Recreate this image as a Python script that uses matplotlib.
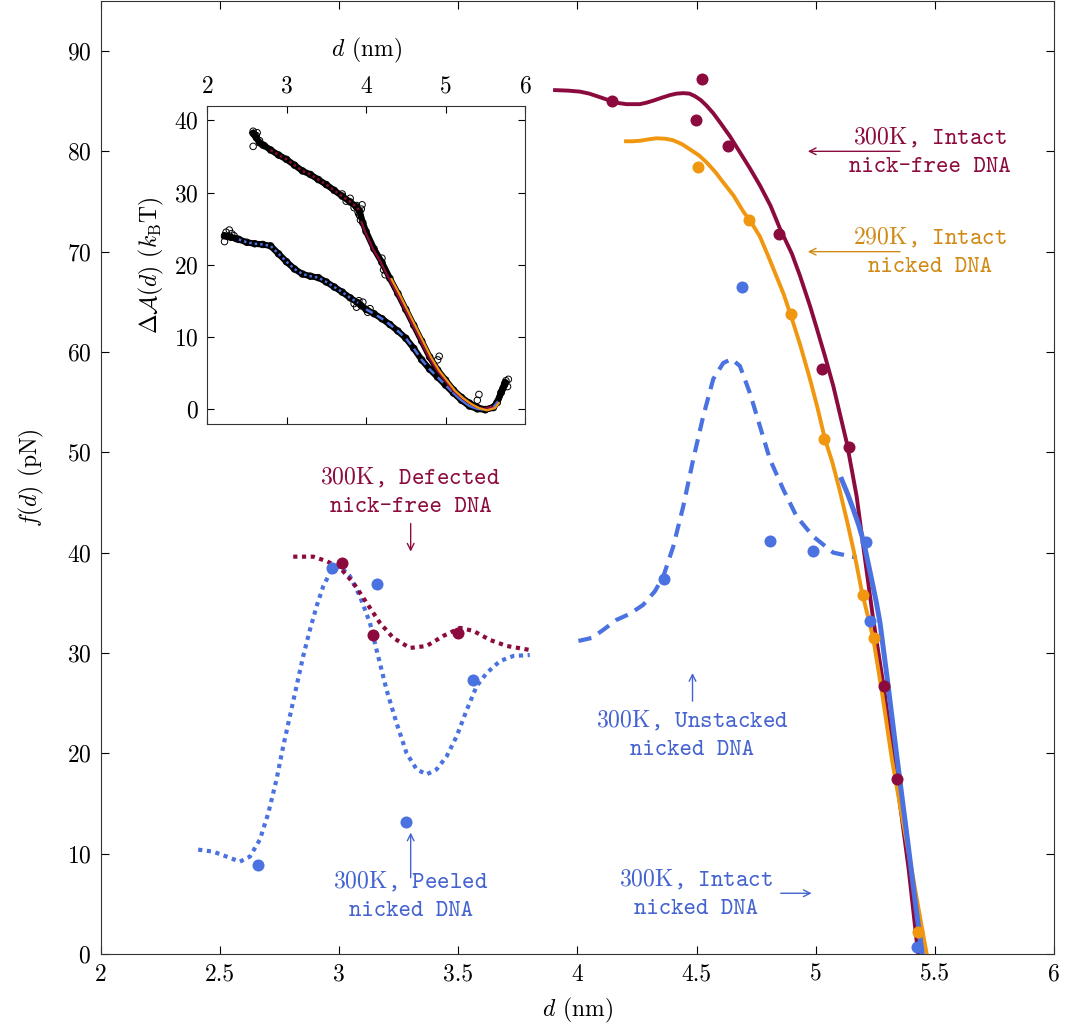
import numpy as np
import matplotlib.pyplot as plt
import matplotlib.transforms as mtransforms

# Colores
maroon = '#8C0B3E'
orange = '#F0960F'
blue = '#4A72E0'
orange_txt = '#D08A14'
blue_txt = '#4563D0'

# ---------------- Datos: panel principal ----------------
# 300K, intact nick-free (linea continua)
nf_x = [3.906, 3.96, 4.01, 4.05, 4.094, 4.143, 4.175, 4.206, 4.262, 4.29, 4.318, 4.355, 4.388,
        4.416, 4.444, 4.47, 4.493, 4.518, 4.542, 4.57, 4.598, 4.64, 4.682, 4.724, 4.766, 4.81,
        4.85, 4.90, 4.934, 4.976, 5.004, 5.04, 5.074, 5.10, 5.13, 5.152, 5.172, 5.20, 5.24,
        5.287, 5.34, 5.39, 5.43]
nf_y = [86.1, 86.05, 85.95, 85.75, 85.4, 85.0, 84.8, 84.7, 84.7, 84.85, 85.05, 85.35, 85.6,
        85.75, 85.8, 85.75, 85.5, 85.1, 84.55, 83.8, 82.9, 81.5, 79.9, 78.3, 76.6, 74.6,
        72.3, 69.8, 67.6, 64.6, 62.4, 59.5, 56.6, 54.0, 51.0, 48.2, 45.6, 40.6, 33.6,
        26.4, 17.4, 8.5, 0.0]
nf_dx = [4.145, 4.497, 4.524, 4.63, 4.845, 5.025, 5.138, 5.287, 5.342]
nf_dy = [85.0, 83.1, 87.2, 80.5, 71.8, 58.3, 50.5, 26.7, 17.4]

# 290K, intact nicked
ni_x = [4.204, 4.23, 4.262, 4.30, 4.332, 4.37, 4.402, 4.44, 4.472, 4.51, 4.542, 4.58, 4.612,
        4.655, 4.696, 4.73, 4.766, 4.80, 4.836, 4.865, 4.895, 4.935, 4.976, 5.008, 5.039,
        5.07, 5.101, 5.135, 5.165, 5.193, 5.242, 5.28, 5.32, 5.36, 5.40, 5.44, 5.466]
ni_y = [81.0, 81.0, 81.05, 81.2, 81.3, 81.25, 81.1, 80.7, 80.2, 79.6, 78.9, 77.9, 76.9,
        75.6, 74.0, 72.9, 71.5, 69.6, 67.5, 65.8, 63.7, 60.7, 57.3, 54.4, 51.3,
        49.0, 46.2, 42.8, 39.6, 36.2, 31.4, 25.8, 19.4, 14.0, 8.8, 3.4, 0.0]
ni_dx = [4.506, 4.72, 4.896, 5.034, 5.198, 5.244, 5.43]
ni_dy = [78.4, 73.2, 63.8, 51.3, 35.8, 31.5, 2.2]

# 300K, intact nicked
in_x = [5.109, 5.135, 5.158, 5.18, 5.20, 5.22, 5.235, 5.255, 5.27, 5.30, 5.34, 5.39, 5.42, 5.45]
in_y = [47.3, 45.8, 44.3, 42.8, 41.2, 39.0, 37.3, 35.0, 33.0, 27.5, 19.8, 10.5, 4.8, -0.5]
in_dx = [5.21, 5.228, 5.425]
in_dy = [41.1, 33.2, 0.7]

# 300K, unstacked nicked
un_x = [4.004, 4.06, 4.108, 4.164, 4.22, 4.276, 4.325, 4.36, 4.402, 4.444, 4.486, 4.528, 4.57,
        4.612, 4.647, 4.682, 4.724, 4.766, 4.808, 4.864, 4.92, 4.99, 5.074, 5.172]
un_y = [31.2, 31.5, 32.3, 33.3, 33.9, 34.8, 36.15, 37.6, 40.6, 44.6, 49.3, 53.6, 57.3,
        58.9, 59.3, 58.6, 55.9, 52.6, 49.3, 46.3, 43.6, 41.6, 40.0, 39.5]
un_dx = [4.363, 4.692, 4.807, 4.99]
un_dy = [37.4, 66.5, 41.2, 40.2]

# 300K, peeled nicked
pe_x = [2.408, 2.471, 2.528, 2.583, 2.625, 2.667, 2.702, 2.737, 2.765, 2.793, 2.821, 2.849,
        2.877, 2.905, 2.933, 2.968, 3.003, 3.045, 3.087, 3.129, 3.157, 3.199, 3.241, 3.283,
        3.325, 3.367, 3.409, 3.451, 3.493, 3.535, 3.577, 3.619, 3.675, 3.731, 3.80]
pe_y = [10.4, 10.2, 9.7, 9.2, 9.7, 11.4, 14.0, 17.4, 20.7, 23.7, 26.7, 29.7,
        32.3, 34.65, 36.65, 38.3, 38.65, 37.65, 35.65, 33.0, 30.3, 26.3, 23.0, 20.0,
        18.4, 17.9, 18.4, 19.7, 21.7, 24.3, 26.7, 28.0, 29.2, 29.7, 29.8]
pe_dx = [2.66, 2.97, 3.16, 3.28, 3.56]
pe_dy = [8.9, 38.5, 36.9, 13.2, 27.3]

# 300K, defected nick-free
de_x = [2.807, 2.891, 2.947, 3.003, 3.059, 3.115, 3.171, 3.227, 3.297, 3.367, 3.437, 3.507,
        3.563, 3.633, 3.703, 3.80]
de_y = [39.6, 39.6, 39.15, 38.5, 37.0, 35.0, 33.0, 31.5, 30.5, 30.7, 31.7, 32.5,
        32.2, 31.3, 30.7, 30.3]
de_dx = [3.01, 3.14, 3.50]
de_dy = [39.0, 31.8, 32.0]

# ---------------- Datos: inset (energia libre) ----------------
up_x = [2.58, 2.62, 2.66, 2.72, 2.80, 2.90, 3.00, 3.10, 3.20, 3.30, 3.40, 3.50, 3.60, 3.70,
        3.80, 3.88, 3.92, 3.96, 4.00, 4.10, 4.20, 4.30, 4.40, 4.50, 4.60, 4.70, 4.80, 4.90,
        5.00, 5.10, 5.20, 5.30, 5.40, 5.50, 5.60, 5.65, 5.70, 5.75]
up_y = [38.2, 37.6, 36.9, 36.5, 35.9, 35.2, 34.6, 33.8, 33.0, 32.5, 31.8, 31.1, 30.3, 29.5,
        28.7, 28.0, 27.4, 25.8, 24.6, 22.2, 20.3, 18.1, 16.0, 13.8, 11.6, 9.4, 7.2, 5.4,
        4.0, 2.6, 1.6, 0.8, 0.2, -0.1, 0.2, 0.9, 2.3, 3.6]
lo_x = [2.22, 2.30, 2.40, 2.50, 2.60, 2.70, 2.80, 2.90, 3.00, 3.10, 3.20, 3.30, 3.40, 3.50,
        3.60, 3.70, 3.80, 3.90, 4.00, 4.10, 4.20, 4.30, 4.40, 4.50, 4.60, 4.70, 4.80, 4.90,
        5.00, 5.10, 5.20, 5.30, 5.40, 5.50, 5.60, 5.65, 5.70, 5.75]
lo_y = [24.0, 23.8, 23.5, 23.1, 22.9, 22.8, 22.6, 21.5, 20.4, 19.4, 18.7, 18.4, 18.2, 17.6,
        16.9, 16.2, 15.4, 14.7, 13.8, 13.2, 12.5, 11.7, 10.8, 9.8, 8.4, 6.8, 5.5, 4.4,
        3.3, 2.2, 1.2, 0.4, 0.0, -0.1, 0.2, 0.9, 2.3, 3.6]
# puntos de muestreo (circulos abiertos) extra
smp_x = [2.58, 2.60, 2.62, 2.63, 2.58, 2.66, 2.70, 3.70, 3.75, 3.80, 3.85, 3.88, 3.90, 3.92,
         3.94, 3.95, 3.93, 3.91, 4.20, 4.22, 4.24, 4.90, 4.92, 5.40, 5.42, 5.72, 5.74, 5.76,
         5.78, 5.79, 2.22, 2.24, 2.26, 2.28, 2.31, 2.34, 2.37, 3.85, 3.88, 3.91, 3.94, 3.96,
         4.02, 4.05]
smp_y = [38.5, 38.0, 37.9, 38.3, 36.4, 37.2, 36.6, 29.8, 28.8, 29.2, 27.9, 28.2, 27.3, 26.8,
         27.7, 28.3, 26.2, 27.0, 20.9, 19.3, 18.6, 6.8, 7.3, 1.2, 2.0, 2.8, 3.3, 3.9, 3.1,
         4.1, 23.2, 24.5, 23.9, 24.8, 24.3, 24.0, 23.6, 14.6, 14.1, 15.0, 14.3, 14.8,
         13.4, 13.9]

# ---------------- Figura ----------------
plt.rcParams['font.family'] = ['cmr10', 'DejaVu Serif']
plt.rcParams['mathtext.fontset'] = 'cm'
plt.rcParams['axes.unicode_minus'] = False
plt.rcParams['axes.formatter.use_mathtext'] = True

fig = plt.figure(figsize=(10.65, 10.26), dpi=100)
ax = fig.add_axes([0.0948, 0.0702, 0.8948, 0.929])

lw = 3.0
ax.plot(pe_x, pe_y, color=blue, lw=lw, ls=(0, (1, 1.1)), zorder=2)
ax.plot(de_x, de_y, color=maroon, lw=lw, ls=(0, (1, 1.1)), zorder=2)
ax.plot(un_x, un_y, color=blue, lw=lw, ls=(0, (3.2, 2)), zorder=2)
ax.plot(nf_x, nf_y, color=maroon, lw=2.8, zorder=3)
ax.plot(ni_x, ni_y, color=orange, lw=2.8, zorder=3)
ax.plot(in_x, in_y, color=blue, lw=3.6, zorder=3)

ms = 75
ax.scatter(pe_dx, pe_dy, s=ms, color=blue, lw=0, zorder=4)
ax.scatter(de_dx, de_dy, s=ms, color=maroon, lw=0, zorder=4)
ax.scatter(un_dx, un_dy, s=ms, color=blue, lw=0, zorder=4)
ax.scatter(nf_dx, nf_dy, s=ms, color=maroon, lw=0, zorder=4)
ax.scatter(ni_dx, ni_dy, s=ms, color=orange, lw=0, zorder=4)
ax.scatter(in_dx, in_dy, s=ms, color=blue, lw=0, zorder=4)

ax.set_xlim(2, 6)
ax.set_ylim(0, 95)
ax.set_xticks(np.arange(2, 6.01, 0.5))
ax.set_xticklabels(['2', '2.5', '3', '3.5', '4', '4.5', '5', '5.5', '6'])
ax.set_yticks(np.arange(0, 91, 10))
ax.tick_params(direction='in', top=True, right=True, length=6, width=0.8,
               labelsize=17, pad=7)
for s in ax.spines.values():
    s.set_linewidth(0.8)
    s.set_color('#333333')
ax.set_xlabel(r'$d$ (nm)', fontsize=17, labelpad=7)
ax.set_ylabel(r'$f(d)$ (pN)', fontsize=17, labelpad=15)

# Anotaciones
tt = dict(family=['cmtt10', 'DejaVu Sans Mono'], fontsize=17.1, ha='center', va='center',
          linespacing=1.5)
arr = dict(arrowstyle='->', lw=1.0, shrinkA=0, shrinkB=0, mutation_scale=12)

ax.text(5.48, 80.0, '$\\mathrm{300K}$, Intact\nnick-free DNA', color=maroon, **tt)
ax.annotate('', xy=(4.967, 80.0), xytext=(5.354, 80.0), arrowprops=dict(color=maroon, **arr))
ax.text(5.48, 70.0, '$\\mathrm{290K}$, Intact\nnicked DNA', color=orange_txt, **tt)
ax.annotate('', xy=(4.967, 70.0), xytext=(5.354, 70.0), arrowprops=dict(color=orange_txt, **arr))
ax.text(3.30, 46.1, '$\\mathrm{300K}$, Defected\nnick-free DNA', color=maroon, **tt)
ax.annotate('', xy=(3.30, 40.1), xytext=(3.30, 42.9), arrowprops=dict(color=maroon, **arr))
ax.text(3.30, 5.8, '$\\mathrm{300K}$, Peeled\nnicked DNA', color=blue_txt, **tt)
ax.annotate('', xy=(3.30, 12.1), xytext=(3.30, 7.6), arrowprops=dict(color=blue_txt, **arr))
ax.text(4.483, 21.85, '$\\mathrm{300K}$, Unstacked\nnicked DNA', color=blue_txt, **tt)
ax.annotate('', xy=(4.483, 28.0), xytext=(4.483, 25.2), arrowprops=dict(color=blue_txt, **arr))
ax.text(4.497, 6.0, '$\\mathrm{300K}$, Intact\nnicked DNA', color=blue_txt, **tt)
ax.annotate('', xy=(4.983, 6.05), xytext=(4.853, 6.05), arrowprops=dict(color=blue_txt, **arr))

# ---------------- Inset ----------------
axi = fig.add_axes([0.1944, 0.5867, 0.2986, 0.31])
up_x = np.array(up_x); up_y = np.array(up_y)
lo_x = np.array(lo_x); lo_y = np.array(lo_y)

axi.plot(up_x, up_y, color='black', lw=4.5, zorder=2)
axi.plot(lo_x, lo_y, color='black', lw=4.5, zorder=2)
axi.scatter(up_x, up_y, s=22, facecolors='none', edgecolors='black', lw=0.7, zorder=2)
axi.scatter(lo_x, lo_y, s=22, facecolors='none', edgecolors='black', lw=0.7, zorder=2)
axi.scatter(smp_x, smp_y, s=22, facecolors='none', edgecolors='black', lw=0.7, zorder=2)

m = (lo_x >= 2.4) & (lo_x <= 3.95)
axi.plot(lo_x[m], lo_y[m], color=blue, lw=1.8, ls=(0, (1, 1.2)), zorder=3)
m = (lo_x >= 4.0) & (lo_x <= 5.2)
axi.plot(lo_x[m], lo_y[m], color=blue, lw=1.8, ls=(0, (3, 2)), zorder=3)
m = (lo_x >= 5.1) & (lo_x <= 5.65)
axi.plot(lo_x[m], lo_y[m], color=blue, lw=1.8, zorder=3)
m = (up_x >= 2.75) & (up_x <= 3.92)
axi.plot(up_x[m], up_y[m], color=maroon, lw=1.8, ls=(0, (1, 1.2)), zorder=3)
m = (up_x >= 3.96) & (up_x <= 5.6)
tr_m = mtransforms.offset_copy(axi.transData, fig=fig, x=-1.0, y=0.5, units='points')
axi.plot(up_x[m], up_y[m], color=maroon, lw=1.6, zorder=3, transform=tr_m)
m = (up_x >= 4.25) & (up_x <= 5.65)
tr_o = mtransforms.offset_copy(axi.transData, fig=fig, x=1.2, y=-0.5, units='points')
axi.plot(up_x[m], up_y[m], color=orange, lw=1.6, zorder=3, transform=tr_o)

axi.set_xlim(2, 6)
axi.set_ylim(-2.1, 42)
axi.set_xticks([2, 3, 4, 5, 6])
axi.set_yticks([0, 10, 20, 30, 40])
axi.xaxis.tick_top()
axi.xaxis.set_label_position('top')
axi.tick_params(direction='in', top=True, bottom=True, left=True, right=True,
                labeltop=True, labelbottom=False, length=5, width=0.8, labelsize=17, pad=6)
for s in axi.spines.values():
    s.set_linewidth(0.8)
    s.set_color('#333333')
axi.set_xlabel(r'$d$ (nm)', fontsize=17, labelpad=14)
axi.set_ylabel(r'$\Delta\mathcal{A}(d)$ ($k_\mathrm{B}$T)', fontsize=17, labelpad=6)

fig.savefig('out.png', dpi=100)
